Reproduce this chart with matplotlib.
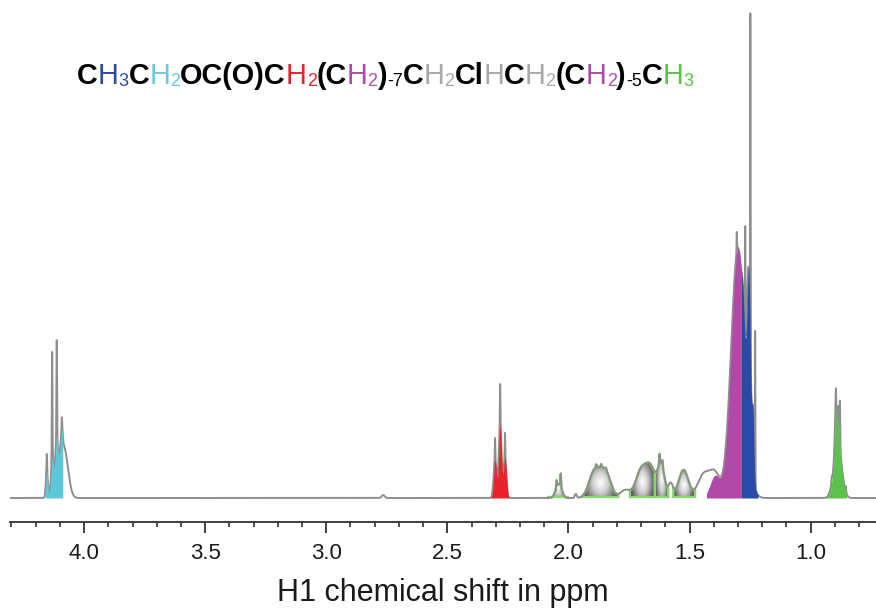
import numpy as np
import matplotlib
matplotlib.use("Agg")
import matplotlib.pyplot as plt
from matplotlib.patches import Polygon
from matplotlib.colors import LinearSegmentedColormap

plt.rcParams["font.family"] = ["Liberation Sans", "DejaVu Sans"]

# peak list read from the picture : position (ppm), height (px above baseline), width (ppm)
# kind : "line" = sharp tip (grey only), "band" = part of the coloured integral, "bg" = grey only
peak_ppm = [4.154, 4.132, 4.113, 4.092, 4.154, 4.132, 4.113, 4.092, 4.115, 4.082,
            2.765,
            2.303, 2.282, 2.262, 2.303, 2.282, 2.262,
            2.040, 2.049, 2.032, 1.970,
            1.893, 1.848, 1.885, 1.865, 1.845,
            1.765,
            1.700, 1.660, 1.617, 1.624, 1.612, 1.578,
            1.525,
            1.440, 1.395,
            1.300, 1.305, 1.279, 1.270, 1.255, 1.249, 1.238, 1.229,
            0.888, 0.896, 0.884, 0.896, 0.886, 0.879, 0.913, 0.855]
peak_height = [18, 105, 96, 12, 25, 25, 25, 20, 30, 48,
               3,
               22, 42, 25, 38, 72, 40,
               14, 7, 13, 4,
               26, 26, 3, 3, 2,
               8,
               27, 28, 32, 10, 6, 14,
               28,
               24, 22,
               250, 20, 20, 111, 160, 325, 60, 154,
               55, 40, 20, 21, 18, 41, 5, 5]
peak_width = [0.0012, 0.0012, 0.0012, 0.0012, 0.004, 0.004, 0.004, 0.004, 0.015, 0.016,
              0.006,
              0.001, 0.001, 0.001, 0.0058, 0.0058, 0.0058,
              0.012, 0.0015, 0.0015, 0.004,
              0.022, 0.022, 0.002, 0.002, 0.002,
              0.020,
              0.022, 0.020, 0.014, 0.0015, 0.0015, 0.010,
              0.020,
              0.025, 0.020,
              0.028, 0.0008, 0.005, 0.0008, 0.007, 0.0008, 0.004, 0.0008,
              0.016, 0.004, 0.004, 0.0012, 0.0012, 0.0012, 0.0012, 0.0012]
peak_kind = ["line", "line", "line", "line", "band", "band", "band", "band", "band", "band",
             "bg",
             "line", "line", "line", "band", "band", "band",
             "bg", "bg", "bg", "bg",
             "bg", "bg", "bg", "bg", "bg",
             "bg",
             "bg", "bg", "bg", "bg", "bg", "bg",
             "bg",
             "bg", "band",
             "band", "line", "band", "line", "band", "line", "band", "line",
             "band", "band", "band", "line", "line", "line", "line", "line"]

# coloured integration regions
fill_lo = [4.088, 2.245, 1.2855, 1.217, 0.851]
fill_hi = [4.161, 2.322, 1.430, 1.2855, 0.941]
fill_color = ["#5cc9d9", "#e8232b", "#b04aa8", "#2b4aa5", "#5cc24c"]

# shaded multiplets with green outline
bump_lo = [2.002, 1.794, 1.643, 1.588, 1.477]
bump_hi = [2.084, 1.945, 1.746, 1.643, 1.567]

ticks = [4.0, 3.5, 3.0, 2.5, 2.0, 1.5, 1.0]

# formula : text, colour, subscript
formula = [("C", "k", 0), ("H", "#2b4aa5", 0), ("3", "#2b4aa5", 1),
           ("C", "k", 0), ("H", "#6cc9dc", 0), ("2", "#6cc9dc", 1),
           ("OC(O)C", "k", 0), ("H", "#e8232b", 0), ("2", "#e8232b", 1),
           ("(C", "k", 0), ("H", "#b04aa8", 0), ("2", "#b04aa8", 1),
           (")", "k", 0), ("-7", "k", 1),
           ("C", "k", 0), ("H", "#a9a9a9", 0), ("2", "#a9a9a9", 1),
           ("Cl", "k", 0), ("H", "#a9a9a9", 0),
           ("C", "k", 0), ("H", "#a9a9a9", 0), ("2", "#a9a9a9", 1),
           ("(C", "k", 0), ("H", "#b04aa8", 0), ("2", "#b04aa8", 1),
           (")", "k", 0), ("-5", "k", 1),
           ("C", "k", 0), ("H", "#5cc24c", 0), ("3", "#5cc24c", 1)]

x = np.linspace(4.306, 0.73, 14000)


def spectrum(kinds):
    y = np.zeros_like(x)
    for p, h, w, k in zip(peak_ppm, peak_height, peak_width, peak_kind):
        if k in kinds:
            y += h * np.exp(-(x - p) ** 2 / (2 * w ** 2))
    return y


y = spectrum(["line", "band", "bg"])
y_fill = spectrum(["band"])

fig = plt.figure(figsize=(8.76, 6.09), dpi=100)
ax = fig.add_axes([10 / 876, 87 / 609, 866 / 876, 522 / 609])

# grey line below the coloured integrals
ax.plot(x, y, color="#8e8e8e", lw=1.4, zorder=4)

# coloured fills
for lo, hi, c in zip(fill_lo, fill_hi, fill_color):
    m = (x >= lo) & (x <= hi)
    ax.fill_between(x[m], 0, y_fill[m], color=c, lw=0, zorder=5)

# grey-shaded bumps (radial gradient clipped to the multiplet)
cmap = LinearSegmentedColormap.from_list(
    "ball", [(0, "#ffffff"), (0.4, "#cfcfcf"), (0.75, "#7c7c7c"), (1, "#424242")])
gx, gy = np.meshgrid(np.linspace(-1, 1, 200), np.linspace(0, 1, 200))
for lo, hi in zip(bump_lo, bump_hi):
    m = (x >= lo) & (x <= hi)
    top = y[m].max()
    verts = np.column_stack([np.r_[x[m], x[m][-1], x[m][0]], np.r_[y[m], 1, 1]])
    r = np.sqrt((gx / 0.95) ** 2 + ((gy - 0.45) / 0.7) ** 2)
    im = ax.imshow(r, extent=(lo, hi, 0, top), origin="lower", cmap=cmap,
                   vmin=0, vmax=1.1, aspect="auto", zorder=2, interpolation="bilinear")
    im.set_clip_path(Polygon(verts, closed=True, transform=ax.transData))
    ax.add_patch(Polygon(verts, closed=True, facecolor="none", edgecolor="#84d96a",
                         lw=1.7, zorder=3))

ax.set_xlim(4.306, 0.73)
ax.set_ylim(-24, 498)
for s in ["left", "right", "top"]:
    ax.spines[s].set_visible(False)
ax.spines["bottom"].set_color("#333333")
ax.spines["bottom"].set_linewidth(1.3)
ax.set_yticks([])
ax.set_xticks(ticks)
ax.set_xticklabels(["%.1f" % t for t in ticks])
ax.set_xticks(np.arange(0.8, 4.31, 0.1), minor=True)
ax.tick_params(axis="x", which="major", length=8, width=1.3, color="#333333",
               labelsize=16, labelcolor="#1a1a1a", pad=7)
ax.tick_params(axis="x", which="minor", length=3.5, width=1.2, color="#333333")

fig.text(443 / 876, 1 - 601 / 609, "H1 chemical shift in ppm", ha="center", va="baseline",
         fontsize=22, color="#1a1a1a")

# formula drawn piece by piece
fig.canvas.draw()
renderer = fig.canvas.get_renderer()
fs = 20.8
xpos = 77.0
base = 609 - 84.0
for txt, col, sub in formula:
    size = fs * 0.62 if sub else fs
    yy = base - fs * 0.12 if sub else base
    weight = "bold" if col == "k" and not sub else "normal"
    t = fig.text(xpos / 876, yy / 609, txt, color=col, fontsize=size, fontweight=weight,
                 ha="left", va="baseline")
    xpos += t.get_window_extent(renderer).width

fig.savefig("out.png", dpi=100)
